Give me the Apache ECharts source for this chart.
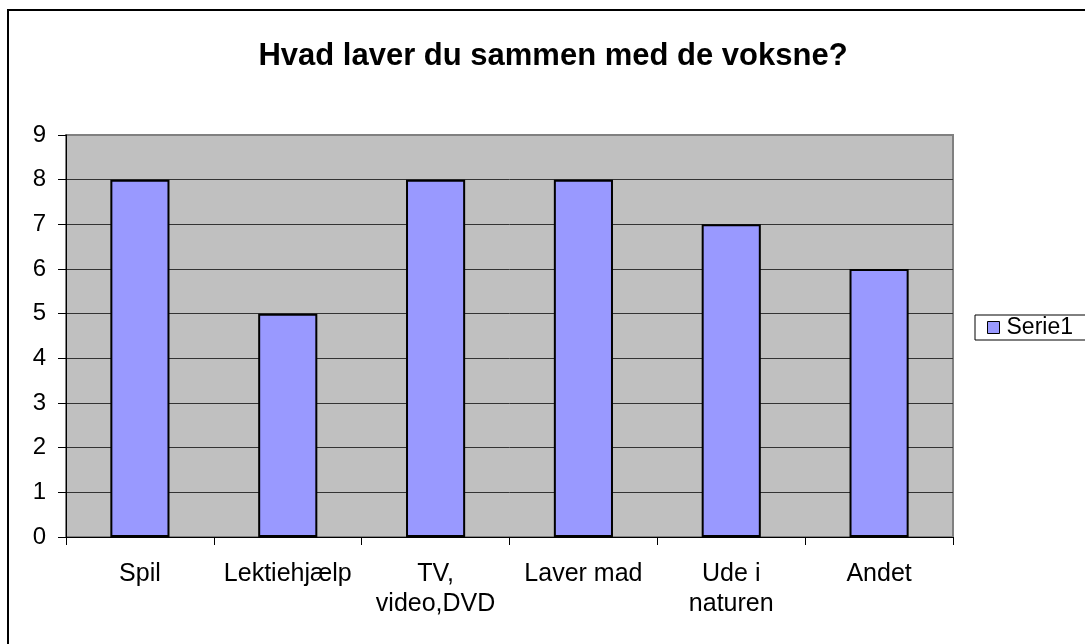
<!DOCTYPE html>
<html>
<head>
<meta charset="utf-8">
<title>Hvad laver du sammen med de voksne?</title>
<script src="https://cdn.jsdelivr.net/npm/echarts@6/dist/echarts.min.js"></script>
<style>
  html, body { margin: 0; padding: 0; background: #fff; overflow: hidden; }
  #frame { position: absolute; left: 7px; top: 9px; width: 1100px; height: 660px;
           border-left: 2px solid #000; border-top: 2px solid #000; }
  #chart { position: absolute; left: 0; top: 0; width: 1085px; height: 644px; }
</style>
</head>
<body>
<div id="frame"></div>
<div id="chart"></div>
<script>
// kategorier og værdier
const categories = ['Spil', 'Lektiehjælp', 'TV,\nvideo,DVD', 'Laver mad', 'Ude i\nnaturen', 'Andet'];
const serie1 = [8, 5, 8, 8, 7, 6];
const yTicks = { min: 0, max: 9, interval: 1 };

const font = 'Liberation Sans, Arial, sans-serif';
const chart = echarts.init(document.getElementById('chart'));

chart.setOption({
  animation: false,
  title: {
    text: 'Hvad laver du sammen med de voksne?',
    left: 548,
    top: 36,
    textAlign: 'center',
    textStyle: { fontFamily: font, fontWeight: 'bold', fontSize: 31, color: '#000' }
  },
  legend: {
    left: 975,
    top: 315,
    orient: 'vertical',
    backgroundColor: '#fff',
    borderColor: '#000',
    borderWidth: 1,
    borderRadius: 0,
    padding: [1, 30, 1, 12],
    itemWidth: 12,
    itemHeight: 12,
    itemGap: 6,
    icon: 'rect',
    itemStyle: { borderColor: '#000', borderWidth: 1 },
    textStyle: { fontFamily: font, fontSize: 23, color: '#000', padding: [0, 0, 0, 2] },
    data: ['Serie1']
  },
  grid: {
    left: 66, right: 132, top: 135, bottom: 107,
    show: true,
    backgroundColor: '#C0C0C0',
    borderColor: '#808080',
    borderWidth: 2
  },
  xAxis: {
    type: 'category',
    data: categories,
    axisLine: { lineStyle: { color: '#000', width: 1 } },
    axisTick: { show: true, length: 8, lineStyle: { color: '#000' } },
    axisLabel: {
      margin: 22,
      color: '#000',
      fontFamily: font,
      fontSize: 25,
      lineHeight: 30,
      interval: 0
    },
    splitLine: { show: false }
  },
  yAxis: {
    type: 'value',
    min: yTicks.min,
    max: yTicks.max,
    interval: yTicks.interval,
    axisLine: { show: true, lineStyle: { color: '#000', width: 1 } },
    axisTick: { show: true, length: 8, lineStyle: { color: '#000' } },
    axisLabel: { margin: 20, color: '#000', fontFamily: font, fontSize: 24 },
    splitLine: { show: true, showMaxLine: false, lineStyle: { color: '#333', width: 1 } }
  },
  series: [{
    name: 'Serie1',
    type: 'bar',
    data: serie1,
    barWidth: '40%',
    itemStyle: { color: '#9999FF', borderColor: '#000', borderWidth: 2 }
  }]
});
</script>
</body>
</html>
